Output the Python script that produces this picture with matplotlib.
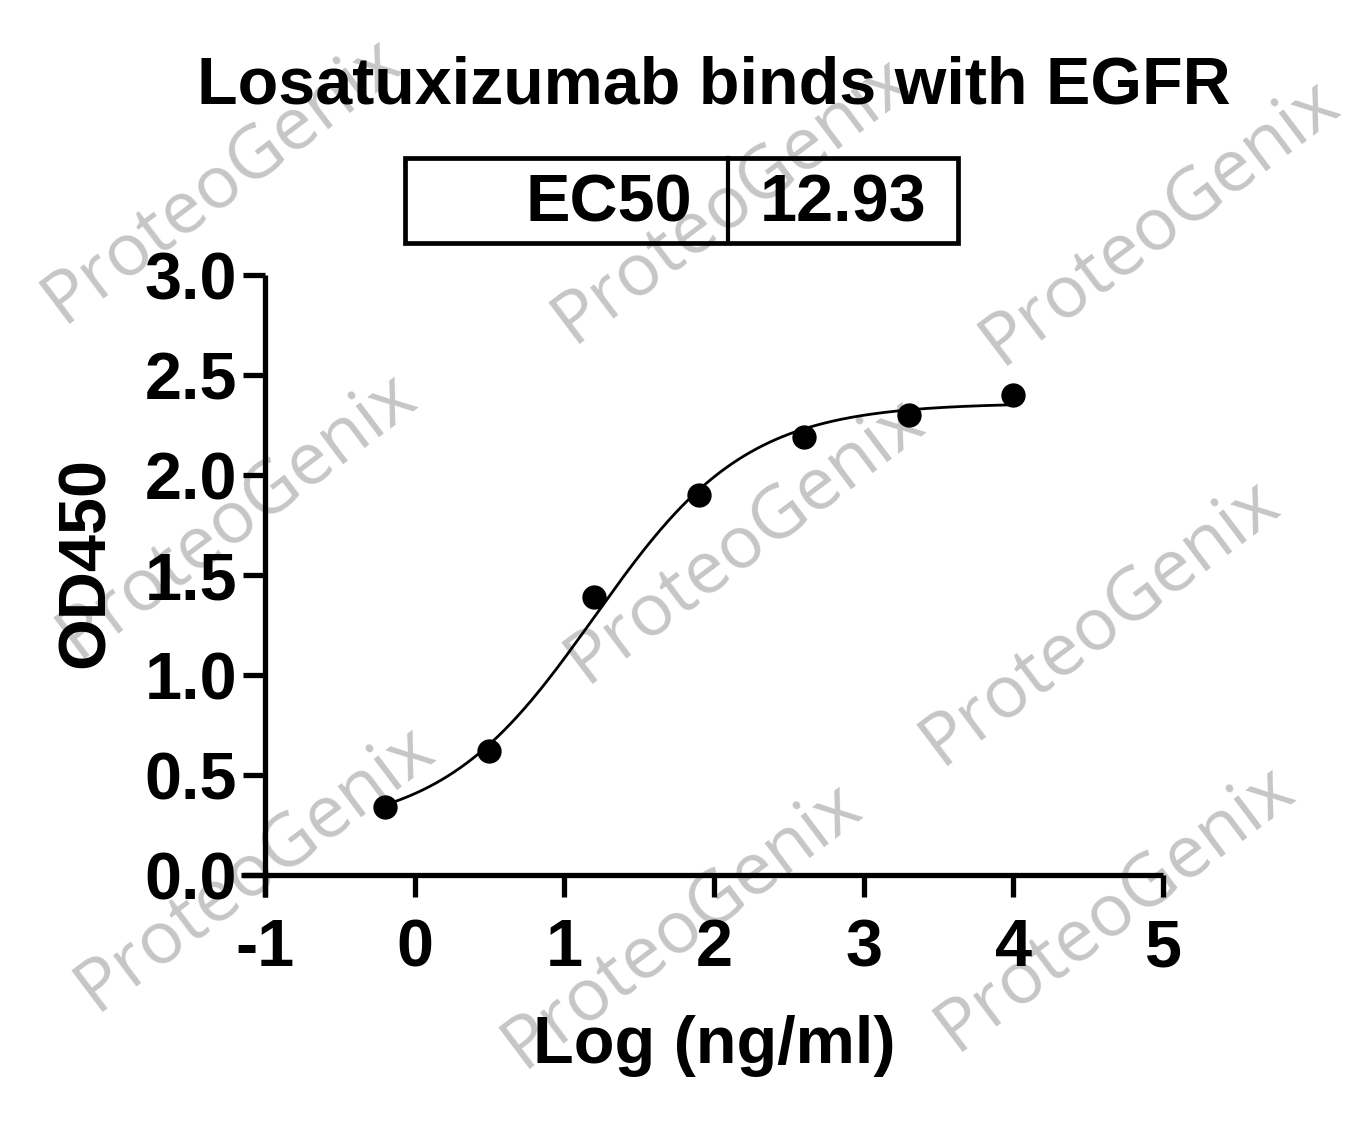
import numpy as np
import matplotlib
matplotlib.use("Agg")
import matplotlib.pyplot as plt
from matplotlib.patches import Rectangle
from matplotlib.lines import Line2D

# measured points (log concentration vs OD450)
log_conc = [-0.2, 0.5, 1.2, 1.9, 2.6, 3.3, 4.0]
od450 = [0.34, 0.62, 1.39, 1.90, 2.19, 2.30, 2.40]

# 4PL fit parameters
fit_bottom = 0.22
fit_top = 2.36
fit_logec50 = 1.2
fit_hill = 0.85

ec50_label = "EC50"
ec50_value = "12.93"

x_ticks = [-1, 0, 1, 2, 3, 4, 5]
y_ticks = [0.0, 0.5, 1.0, 1.5, 2.0, 2.5, 3.0]

plt.rcParams['font.family'] = ['Liberation Sans', 'DejaVu Sans']
W, H = 1363, 1121
fig = plt.figure(figsize=(W / 100, H / 100), dpi=100)
fig.patch.set_facecolor('white')


def fx(px):
    return px / W


def fy(py):
    return 1 - py / H


# watermarks, drawn behind everything
wm_centers = [(222, 180), (732, 200), (1160, 222),
              (237, 515), (745, 540), (1100, 622),
              (255, 868), (682, 925), (1115, 908)]
for cx, cy in wm_centers:
    fig.text(fx(cx), fy(cy), "ProteoGenix", family=['Open Sans', 'DejaVu Sans'],
             fontsize=53, color='#c6c6c6', rotation=37, rotation_mode='anchor',
             ha='center', va='center', zorder=-5)

ax = fig.add_axes([fx(265), fy(875), fx(1163) - fx(265), (875 - 275) / H])
ax.patch.set_visible(False)
ax.set_xlim(-1, 5)
ax.set_ylim(0, 3)

xs = np.linspace(min(log_conc), max(log_conc), 300)
ys = fit_bottom + (fit_top - fit_bottom) / (1 + 10 ** ((fit_logec50 - xs) * fit_hill))
ax.plot(xs, ys, color='black', lw=2.0, zorder=3)
ax.plot(log_conc, od450, 'o', color='black', ms=16.5, zorder=4, clip_on=False)

lw = 3.8
tick_len = 16
for side in ['top', 'right']:
    ax.spines[side].set_visible(False)
ax.spines['left'].set_linewidth(lw)
ax.spines['bottom'].set_linewidth(lw)
ax.spines['left'].set_bounds(-22 / 200, 3)
ax.spines['bottom'].set_bounds(-1 - 24 / 149.7, 5)
ax.spines['left'].set_capstyle('butt')
ax.spines['bottom'].set_capstyle('butt')

ax.set_xticks(x_ticks)
ax.set_xticklabels([str(t) for t in x_ticks])
ax.set_yticks(y_ticks)
ax.set_yticklabels([f"{t:.1f}" for t in y_ticks])
ax.tick_params(axis='both', width=lw, length=tick_len, direction='out', labelsize=48)
ax.tick_params(axis='y', pad=4)
ax.tick_params(axis='x', pad=15)
for lab in ax.get_xticklabels() + ax.get_yticklabels():
    lab.set_fontweight('bold')

# labels
fig.text(fx(714), fy(1063), "Log (ng/ml)", fontsize=48, fontweight='bold',
         ha='center', va='baseline')
fig.text(fx(87), fy(563), "OD450", fontsize=48, fontweight='bold',
         ha='center', va='center', rotation=90)
fig.text(fx(714), fy(103), "Losatuxizumab binds with EGFR", fontsize=47.8,
         fontweight='bold', ha='center', va='baseline')

# EC50 table
box = Rectangle((fx(405), fy(243)), fx(958) - fx(405), (243 - 158) / H,
                transform=fig.transFigure, fill=False, edgecolor='black', lw=3.4)
fig.patches.append(box)
fig.lines.append(Line2D([fx(728), fx(728)], [fy(243), fy(158)],
                        transform=fig.transFigure, color='black', lw=3.0))
fig.text(fx(692), fy(221), ec50_label, fontsize=48, fontweight='bold',
         ha='right', va='baseline')
fig.text(fx(843), fy(221), ec50_value, fontsize=48, fontweight='bold',
         ha='center', va='baseline')

fig.savefig("out.png", dpi=100, facecolor='white')
